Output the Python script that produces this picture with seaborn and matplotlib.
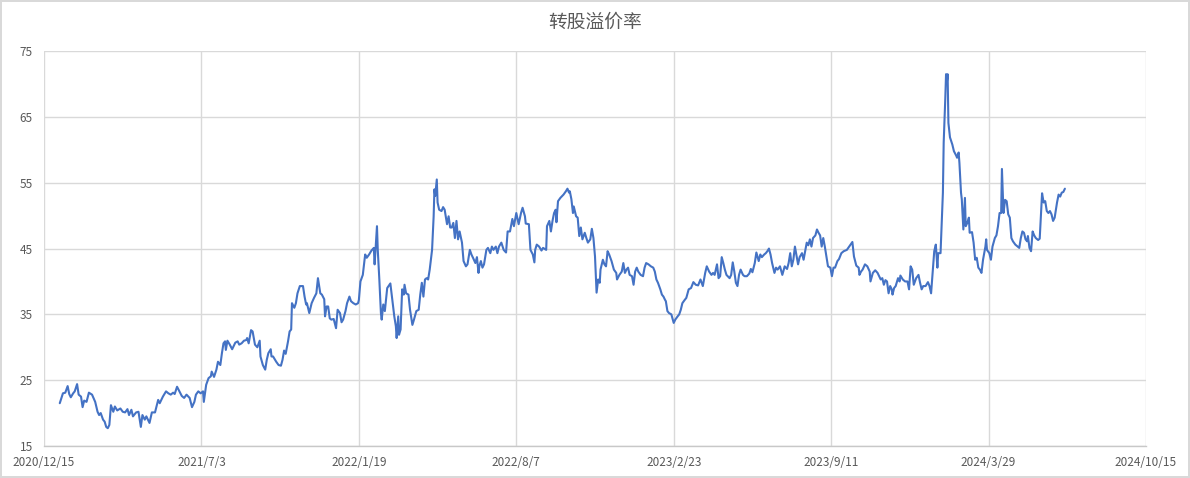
import matplotlib
matplotlib.use("Agg")
import matplotlib.pyplot as plt
import pandas as pd
import seaborn as sns

# 转股溢价率 (%)
dates = [
    "2021-01-04", "2021-01-08", "2021-01-11", "2021-01-14", "2021-01-16", "2021-01-18",
    "2021-01-21", "2021-01-23", "2021-01-26", "2021-01-28", "2021-01-31", "2021-02-02",
    "2021-02-04", "2021-02-07", "2021-02-10", "2021-02-14", "2021-02-18", "2021-02-21",
    "2021-02-23", "2021-02-25", "2021-02-28", "2021-03-02", "2021-03-04", "2021-03-06",
    "2021-03-08", "2021-03-10", "2021-03-13", "2021-03-15", "2021-03-18", "2021-03-22",
    "2021-03-25", "2021-03-28", "2021-03-31", "2021-04-02", "2021-04-05", "2021-04-07",
    "2021-04-11", "2021-04-14", "2021-04-17", "2021-04-19", "2021-04-22", "2021-04-24",
    "2021-04-28", "2021-05-01", "2021-05-05", "2021-05-09", "2021-05-11", "2021-05-15",
    "2021-05-19", "2021-05-22", "2021-05-25", "2021-05-28", "2021-05-30", "2021-06-02",
    "2021-06-05", "2021-06-08", "2021-06-11", "2021-06-14", "2021-06-18", "2021-06-21",
    "2021-06-24", "2021-06-26", "2021-06-29", "2021-07-02", "2021-07-05", "2021-07-06",
    "2021-07-09", "2021-07-12", "2021-07-15", "2021-07-16", "2021-07-19", "2021-07-22",
    "2021-07-24", "2021-07-27", "2021-07-29", "2021-07-31", "2021-08-02", "2021-08-03",
    "2021-08-05", "2021-08-08", "2021-08-11", "2021-08-15", "2021-08-18", "2021-08-20",
    "2021-08-23", "2021-08-26", "2021-08-29", "2021-08-30", "2021-09-01", "2021-09-04",
    "2021-09-06", "2021-09-09", "2021-09-12", "2021-09-15", "2021-09-16", "2021-09-19",
    "2021-09-22", "2021-09-24", "2021-09-26", "2021-09-29", "2021-09-30", "2021-10-02",
    "2021-10-06", "2021-10-09", "2021-10-12", "2021-10-14", "2021-10-16", "2021-10-18",
    "2021-10-21", "2021-10-23", "2021-10-25", "2021-10-26", "2021-10-29", "2021-10-31",
    "2021-11-02", "2021-11-05", "2021-11-09", "2021-11-11", "2021-11-13", "2021-11-14",
    "2021-11-17", "2021-11-20", "2021-11-23", "2021-11-26", "2021-11-28", "2021-12-01",
    "2021-12-03", "2021-12-06", "2021-12-07", "2021-12-09", "2021-12-11", "2021-12-13",
    "2021-12-15", "2021-12-18", "2021-12-21", "2021-12-23", "2021-12-26", "2021-12-28",
    "2021-12-30", "2022-01-02", "2022-01-04", "2022-01-07", "2022-01-09", "2022-01-12",
    "2022-01-15", "2022-01-18", "2022-01-19", "2022-01-21", "2022-01-24", "2022-01-27",
    "2022-01-29", "2022-02-01", "2022-02-04", "2022-02-07", "2022-02-08", "2022-02-11",
    "2022-02-12", "2022-02-14", "2022-02-16", "2022-02-17", "2022-02-19", "2022-02-21",
    "2022-02-24", "2022-02-28", "2022-03-02", "2022-03-05", "2022-03-07", "2022-03-08",
    "2022-03-10", "2022-03-11", "2022-03-13", "2022-03-15", "2022-03-17", "2022-03-18",
    "2022-03-20", "2022-03-23", "2022-03-25", "2022-03-28", "2022-03-30", "2022-04-02",
    "2022-04-05", "2022-04-07", "2022-04-09", "2022-04-11", "2022-04-13", "2022-04-15",
    "2022-04-17", "2022-04-19", "2022-04-22", "2022-04-24", "2022-04-25", "2022-04-26",
    "2022-04-28", "2022-04-29", "2022-05-01", "2022-05-04", "2022-05-06", "2022-05-08",
    "2022-05-11", "2022-05-13", "2022-05-15", "2022-05-17", "2022-05-19", "2022-05-21",
    "2022-05-23", "2022-05-25", "2022-05-27", "2022-05-30", "2022-06-01", "2022-06-04",
    "2022-06-06", "2022-06-09", "2022-06-11", "2022-06-13", "2022-06-16", "2022-06-18",
    "2022-06-20", "2022-06-21", "2022-06-23", "2022-06-25", "2022-06-27", "2022-06-30",
    "2022-07-02", "2022-07-05", "2022-07-07", "2022-07-09", "2022-07-12", "2022-07-14",
    "2022-07-16", "2022-07-19", "2022-07-22", "2022-07-25", "2022-07-27", "2022-07-30",
    "2022-08-02", "2022-08-04", "2022-08-07", "2022-08-10", "2022-08-13", "2022-08-15",
    "2022-08-18", "2022-08-19", "2022-08-23", "2022-08-25", "2022-08-28", "2022-08-30",
    "2022-08-31", "2022-09-02", "2022-09-05", "2022-09-08", "2022-09-10", "2022-09-14",
    "2022-09-15", "2022-09-18", "2022-09-20", "2022-09-22", "2022-09-24", "2022-09-26",
    "2022-09-27", "2022-09-29", "2022-10-02", "2022-10-06", "2022-10-09", "2022-10-11",
    "2022-10-13", "2022-10-14", "2022-10-16", "2022-10-18", "2022-10-19", "2022-10-22",
    "2022-10-24", "2022-10-26", "2022-10-28", "2022-10-30", "2022-11-02", "2022-11-04",
    "2022-11-06", "2022-11-09", "2022-11-11", "2022-11-13", "2022-11-15", "2022-11-17",
    "2022-11-19", "2022-11-21", "2022-11-22", "2022-11-25", "2022-11-27", "2022-11-29",
    "2022-12-01", "2022-12-03", "2022-12-06", "2022-12-09", "2022-12-12", "2022-12-13",
    "2022-12-16", "2022-12-19", "2022-12-21", "2022-12-23", "2022-12-25", "2022-12-27",
    "2022-12-29", "2023-01-01", "2023-01-03", "2023-01-05", "2023-01-07", "2023-01-09",
    "2023-01-12", "2023-01-15", "2023-01-17", "2023-01-19", "2023-01-22", "2023-01-25",
    "2023-01-28", "2023-01-30", "2023-02-01", "2023-02-03", "2023-02-06", "2023-02-08",
    "2023-02-10", "2023-02-12", "2023-02-13", "2023-02-15", "2023-02-17", "2023-02-20",
    "2023-02-23", "2023-02-25", "2023-02-28", "2023-03-02", "2023-03-04", "2023-03-06",
    "2023-03-09", "2023-03-11", "2023-03-14", "2023-03-17", "2023-03-20", "2023-03-23",
    "2023-03-26", "2023-03-29", "2023-04-01", "2023-04-04", "2023-04-06", "2023-04-09",
    "2023-04-12", "2023-04-14", "2023-04-16", "2023-04-19", "2023-04-21", "2023-04-23",
    "2023-04-25", "2023-04-27", "2023-04-29", "2023-05-01", "2023-05-05", "2023-05-07",
    "2023-05-09", "2023-05-11", "2023-05-13", "2023-05-15", "2023-05-17", "2023-05-19",
    "2023-05-22", "2023-05-24", "2023-05-27", "2023-05-30", "2023-06-01", "2023-06-03",
    "2023-06-06", "2023-06-08", "2023-06-11", "2023-06-13", "2023-06-15", "2023-06-18",
    "2023-06-20", "2023-06-22", "2023-06-24", "2023-06-26", "2023-06-28", "2023-07-01",
    "2023-07-03", "2023-07-05", "2023-07-08", "2023-07-11", "2023-07-14", "2023-07-17",
    "2023-07-19", "2023-07-21", "2023-07-23", "2023-07-25", "2023-07-27", "2023-07-29",
    "2023-07-31", "2023-08-02", "2023-08-05", "2023-08-07", "2023-08-09", "2023-08-11",
    "2023-08-13", "2023-08-15", "2023-08-17", "2023-08-19", "2023-08-22", "2023-08-24",
    "2023-08-26", "2023-08-28", "2023-08-30", "2023-09-01", "2023-09-03", "2023-09-05",
    "2023-09-07", "2023-09-10", "2023-09-12", "2023-09-14", "2023-09-16", "2023-09-19",
    "2023-09-21", "2023-09-24", "2023-09-27", "2023-10-01", "2023-10-05", "2023-10-08",
    "2023-10-10", "2023-10-13", "2023-10-16", "2023-10-17", "2023-10-19", "2023-10-21",
    "2023-10-24", "2023-10-27", "2023-10-30", "2023-10-31", "2023-11-03", "2023-11-06",
    "2023-11-09", "2023-11-11", "2023-11-13", "2023-11-15", "2023-11-17", "2023-11-19",
    "2023-11-21", "2023-11-23", "2023-11-25", "2023-11-27", "2023-11-28", "2023-11-30",
    "2023-12-02", "2023-12-05", "2023-12-07", "2023-12-08", "2023-12-11", "2023-12-14",
    "2023-12-17", "2023-12-19", "2023-12-21", "2023-12-23", "2023-12-25", "2023-12-28",
    "2023-12-31", "2024-01-02", "2024-01-04", "2024-01-06", "2024-01-09", "2024-01-12",
    "2024-01-14", "2024-01-16", "2024-01-18", "2024-01-20", "2024-01-22", "2024-01-24",
    "2024-01-25", "2024-01-28", "2024-01-31", "2024-02-01", "2024-02-03", "2024-02-04",
    "2024-02-05", "2024-02-06", "2024-02-07", "2024-02-09", "2024-02-12", "2024-02-14",
    "2024-02-17", "2024-02-18", "2024-02-20", "2024-02-21", "2024-02-23", "2024-02-24",
    "2024-02-26", "2024-02-28", "2024-02-29", "2024-03-02", "2024-03-04", "2024-03-05",
    "2024-03-08", "2024-03-10", "2024-03-12", "2024-03-14", "2024-03-16", "2024-03-18",
    "2024-03-20", "2024-03-22", "2024-03-25", "2024-03-26", "2024-03-27", "2024-03-30",
    "2024-04-01", "2024-04-03", "2024-04-06", "2024-04-08", "2024-04-10", "2024-04-12",
    "2024-04-14", "2024-04-15", "2024-04-17", "2024-04-19", "2024-04-21", "2024-04-23",
    "2024-04-25", "2024-04-27", "2024-04-29", "2024-05-02", "2024-05-05", "2024-05-07",
    "2024-05-09", "2024-05-11", "2024-05-13", "2024-05-15", "2024-05-17", "2024-05-18",
    "2024-05-20", "2024-05-22", "2024-05-24", "2024-05-26", "2024-05-28", "2024-05-31",
    "2024-06-02", "2024-06-05", "2024-06-07", "2024-06-09", "2024-06-11", "2024-06-13",
    "2024-06-15", "2024-06-17", "2024-06-19", "2024-06-21", "2024-06-24", "2024-06-26",
    "2024-06-28", "2024-06-30", "2024-07-02", "2024-07-04",
]

premium = [
    21.5, 23.0, 23.1, 24.1, 22.9, 22.4,
    23.0, 23.3, 24.4, 22.8, 22.5, 20.9,
    21.9, 21.7, 23.1, 22.8, 21.7, 20.2,
    19.7, 20.0, 19.0, 18.7, 17.9, 17.7,
    18.2, 21.2, 20.2, 21.0, 20.4, 20.7,
    20.2, 20.1, 20.6, 19.7, 20.5, 19.5,
    20.1, 20.2, 17.9, 19.7, 19.0, 19.5,
    18.5, 20.1, 20.1, 22.0, 21.5, 22.5,
    23.3, 23.0, 22.8, 23.1, 22.9, 24.0,
    23.3, 22.6, 22.3, 22.8, 22.3, 20.9,
    21.7, 22.8, 23.3, 23.0, 23.3, 21.7,
    24.3, 25.3, 25.6, 26.3, 25.5, 26.6,
    27.8, 27.3, 29.1, 30.6, 30.9, 29.6,
    31.0, 30.4, 29.7, 30.7, 30.9, 30.4,
    30.6, 31.0, 31.1, 31.4, 30.6, 32.6,
    32.4, 30.4, 30.0, 31.0, 28.6, 27.3,
    26.6, 28.1, 29.1, 29.7, 28.6, 28.6,
    27.8, 27.3, 27.2, 28.1, 29.5, 29.0,
    30.9, 32.4, 32.7, 36.7, 36.0, 36.7,
    38.2, 39.3, 39.3, 37.7, 36.5, 36.7,
    35.2, 36.7, 37.5, 38.2, 40.5, 38.2,
    38.0, 37.3, 34.7, 36.2, 36.2, 34.4,
    34.2, 34.3, 32.9, 35.7, 35.2, 33.8,
    34.2, 35.5, 36.7, 37.7, 37.0, 36.7,
    36.5, 36.7, 37.2, 40.0, 41.0, 44.1,
    43.6, 44.1, 44.7, 45.1, 42.6, 48.4,
    44.8, 40.3, 35.2, 34.2, 36.5, 35.5,
    39.0, 39.7, 37.7, 34.7, 33.2, 31.4,
    34.7, 31.9, 32.7, 38.8, 38.0, 39.5,
    38.2, 38.0, 35.7, 33.4, 34.2, 35.5,
    35.7, 38.0, 39.8, 37.7, 40.3, 40.5,
    40.3, 41.8, 44.8, 49.9, 54.0, 53.0,
    55.5, 52.0, 50.9, 50.7, 51.3, 50.9,
    48.7, 49.9, 48.2, 48.2, 48.9, 46.6,
    49.2, 46.4, 47.6, 45.9, 43.1, 42.3,
    42.6, 44.8, 44.1, 43.6, 42.8, 43.7,
    41.3, 42.3, 43.1, 42.1, 42.6, 44.8,
    45.1, 44.3, 45.3, 44.8, 45.3, 44.3,
    45.3, 45.9, 44.8, 44.4, 47.6, 47.6,
    49.5, 48.4, 50.4, 48.7, 50.4, 51.2,
    49.9, 48.8, 48.7, 44.8, 44.1, 42.9,
    44.8, 45.6, 45.3, 44.7, 45.1, 44.8,
    48.4, 49.2, 47.6, 49.2, 50.4, 50.9,
    49.0, 52.2, 52.7, 53.2, 53.7, 54.1,
    53.5, 53.7, 52.5, 50.4, 51.4, 49.9,
    49.7, 46.9, 48.2, 46.4, 47.4, 46.6,
    45.9, 46.4, 48.0, 46.6, 43.8, 38.3,
    40.3, 39.8, 41.8, 43.3, 42.6, 42.3,
    44.6, 44.1, 43.1, 41.8, 41.3, 40.3,
    41.0, 41.5, 42.8, 41.3, 41.8, 42.1,
    41.0, 40.8, 39.5, 41.5, 42.1, 41.5,
    41.0, 40.8, 42.1, 42.8, 42.6, 42.3,
    42.1, 41.5, 40.3, 39.8, 38.8, 38.0,
    37.7, 37.2, 37.0, 35.5, 35.2, 35.0,
    33.7, 34.2, 34.7, 35.0, 35.7, 36.7,
    37.2, 37.5, 38.8, 39.0, 39.9, 39.5,
    39.4, 40.3, 39.3, 41.3, 42.3, 41.5,
    41.0, 41.3, 41.0, 42.6, 40.5, 40.8,
    43.7, 42.8, 41.8, 41.0, 40.5, 41.0,
    42.9, 41.5, 39.8, 39.3, 41.0, 41.8,
    41.0, 40.8, 40.8, 41.2, 41.9, 41.4,
    42.8, 44.4, 43.1, 44.1, 43.7, 44.1,
    44.3, 44.6, 45.0, 44.1, 42.8, 41.3,
    42.1, 41.8, 42.3, 41.0, 42.3, 41.9,
    42.8, 44.3, 42.3, 43.3, 45.3, 43.9,
    42.6, 43.7, 44.3, 43.3, 44.6, 45.9,
    45.5, 46.4, 45.3, 46.6, 47.0, 47.9,
    47.4, 47.0, 45.3, 46.6, 45.3, 43.8,
    42.3, 42.1, 40.8, 42.1, 42.1, 43.1,
    43.4, 44.3, 44.6, 44.8, 45.5, 46.0,
    43.8, 42.4, 42.1, 41.0, 41.5, 41.8,
    42.6, 42.3, 41.5, 40.0, 41.3, 41.7,
    41.3, 40.8, 40.3, 40.5, 39.5, 40.2,
    40.0, 38.2, 39.3, 38.8, 38.0, 39.0,
    39.3, 40.5, 40.0, 40.9, 40.3, 40.0,
    40.0, 38.8, 42.3, 41.8, 39.5, 40.5,
    41.0, 39.8, 38.8, 39.3, 39.3, 39.9,
    39.3, 38.2, 41.3, 44.6, 45.6, 42.1,
    44.3, 44.3, 53.5, 61.1, 67.7, 71.5,
    70.2, 71.5, 64.1, 61.9, 60.8, 59.8,
    59.1, 58.8, 59.6, 58.0, 53.5, 52.5,
    47.9, 52.7, 48.4, 48.9, 49.7, 47.4,
    47.5, 45.9, 43.3, 43.6, 42.1, 41.8,
    41.3, 43.3, 45.3, 46.4, 44.8, 44.3,
    43.3, 45.3, 46.6, 47.0, 48.4, 50.4,
    50.4, 57.1, 50.4, 52.4, 52.2, 50.2,
    49.7, 46.6, 46.1, 45.6, 45.3, 45.1,
    46.6, 47.6, 47.4, 46.4, 46.1, 46.9,
    45.1, 44.6, 47.6, 47.0, 46.6, 46.3,
    46.5, 53.4, 52.0, 52.2, 50.7, 50.4,
    50.7, 50.2, 49.2, 49.7, 52.0, 53.2,
    52.9, 53.5, 53.6, 54.1,
]

tick_dates = ["2020-12-15", "2021-07-03", "2022-01-19", "2022-08-07",
              "2023-02-23", "2023-09-11", "2024-03-29", "2024-10-15"]
y_ticks = [15, 25, 35, 45, 55, 65, 75]

TEXT = "#595959"
GRID = "#d9d9d9"
LINE = "#4472c4"

sns.set_theme(style="white")
plt.rcParams["font.family"] = ["Noto Sans CJK SC", "DejaVu Sans"]

df = pd.DataFrame({"date": pd.to_datetime(dates), "premium": premium})
ticks = pd.to_datetime(tick_dates)

fig = plt.figure(figsize=(11.9, 4.78), dpi=100)
fig.patch.set_edgecolor(GRID)
fig.patch.set_linewidth(1.5)
ax = fig.add_axes([0.037, 0.067, 0.926, 0.826])

sns.lineplot(data=df, x="date", y="premium", ax=ax, color=LINE, linewidth=1.5)

ax.set_xlim(ticks[0], ticks[-1])
ax.set_ylim(15, 75)
ax.set_xticks(ticks)
ax.set_xticklabels([f"{d.year}/{d.month}/{d.day}" for d in ticks])
ax.set_yticks(y_ticks)
ax.grid(True, color=GRID, linewidth=1.0)
ax.set_axisbelow(True)
for side in ["top", "right", "left"]:
    ax.spines[side].set_visible(False)
ax.spines["bottom"].set_color("#c8c8c8")
ax.spines["bottom"].set_linewidth(1.0)
ax.tick_params(axis="both", length=0, labelsize=8.5, labelcolor=TEXT)
ax.tick_params(axis="x", pad=7)
ax.tick_params(axis="y", pad=8)
ax.set_xlabel("")
ax.set_ylabel("")

fig.suptitle("转股溢价率", x=0.5, y=0.975, fontsize=13.5, color=TEXT)

fig.savefig("out.png", dpi=100)
